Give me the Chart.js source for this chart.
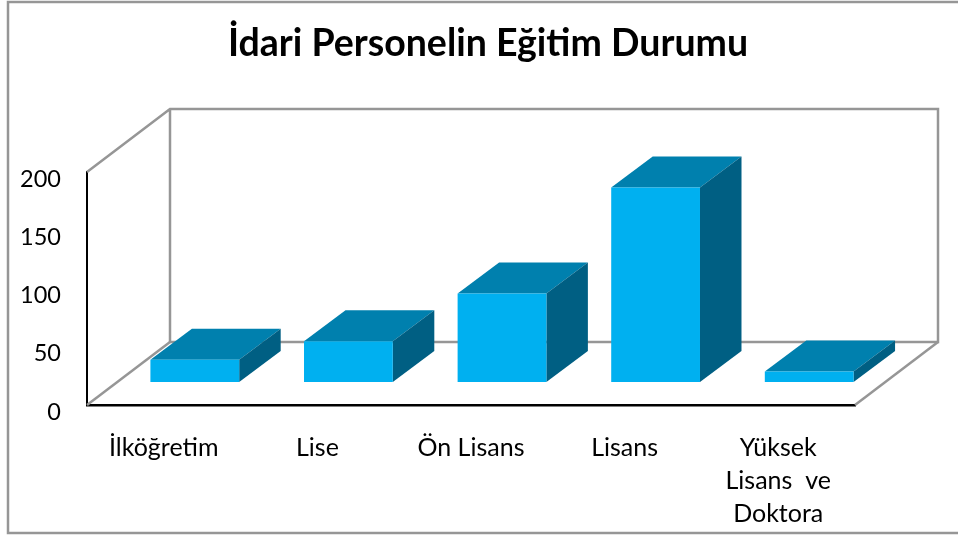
<!DOCTYPE html>
<html lang="tr">
<head>
<meta charset="utf-8">
<title>İdari Personelin Eğitim Durumu</title>
<script src="https://cdn.jsdelivr.net/npm/chart.js@4"></script>
<style>
    html, body { margin: 0; padding: 0; background: #fff; overflow: hidden; }
    canvas { display: block; }
</style>
</head>
<body>
<canvas id="chart" width="958" height="536"></canvas>
<script>
const chartTitle = "İdari Personelin Eğitim Durumu";
const categories = ["İlköğretim", "Lise", "Ön Lisans", "Lisans", ["Yüksek", "Lisans  ve", "Doktora"]];
const personel = [19, 35, 76, 167, 9];
const yTicks = [0, 50, 100, 150, 200];

const fontName = "Lato, 'Open Sans', sans-serif";
const wallColor = "#969696";
const frontColor = "#00B0F0";
const topColor = "#0080AE";
const sideColor = "#005F83";

// depth of the fake 3D box, and of the bars inside it
const wall = { dx: 83, dy: -63 };
const barShift = { dx: 31, dy: -23 };
const barDepth = { dx: 41.5, dy: -31 };

function line(ctx, points) {
    ctx.beginPath();
    points.forEach((p, i) => i ? ctx.lineTo(p[0], p[1]) : ctx.moveTo(p[0], p[1]));
    ctx.stroke();
}

function face(ctx, points, color) {
    ctx.fillStyle = color;
    ctx.beginPath();
    points.forEach((p, i) => i ? ctx.lineTo(p[0], p[1]) : ctx.moveTo(p[0], p[1]));
    ctx.closePath();
    ctx.fill();
}

const box3d = {
    id: "box3d",
    beforeDatasetsDraw(chart) {
        const { ctx, chartArea: a } = chart;
        ctx.save();
        // outer frame, the right side falls off the picture
        ctx.strokeStyle = wallColor;
        ctx.lineWidth = 2.5;
        line(ctx, [[958, 2], [8, 2], [8, 533], [958, 533]]);
        // back wall and floor
        const backL = a.left + wall.dx, backR = a.right + wall.dx;
        const backT = a.top + wall.dy, backB = a.bottom + wall.dy;
        line(ctx, [[a.left, a.top], [backL, backT], [backR, backT], [backR, backB], [backL, backB], [backL, backT]]);
        line(ctx, [[a.left, a.bottom], [backL, backB]]);
        line(ctx, [[a.right, a.bottom], [backR, backB]]);
        ctx.restore();
        // title
        ctx.save();
        ctx.font = "bold 37.5px " + fontName;
        ctx.fillStyle = "#000";
        ctx.textAlign = "center";
        ctx.textBaseline = "middle";
        ctx.fillText(chartTitle, 488, 44);
        ctx.restore();
    },
    beforeDatasetDraw(chart, args) {
        const ctx = chart.ctx;
        ctx.save();
        ctx.translate(barShift.dx, barShift.dy);
        args.meta.data.forEach(bar => {
            const { x, y, base, width } = bar.getProps(["x", "y", "base", "width"], true);
            const l = x - width / 2, r = x + width / 2;
            face(ctx, [[l, y], [r, y], [r + barDepth.dx, y + barDepth.dy], [l + barDepth.dx, y + barDepth.dy]], topColor);
            face(ctx, [[r, y], [r + barDepth.dx, y + barDepth.dy], [r + barDepth.dx, base + barDepth.dy], [r, base]], sideColor);
        });
    },
    afterDatasetDraw(chart) {
        chart.ctx.restore();
    }
};

new Chart(document.getElementById("chart"), {
    type: "bar",
    data: {
        labels: categories,
        datasets: [{
            label: chartTitle,
            data: personel,
            backgroundColor: frontColor,
            categoryPercentage: 1,
            barPercentage: 0.578,
            clip: false
        }]
    },
    options: {
        responsive: false,
        animation: false,
        layout: { padding: { top: 172, right: 103 } },
        plugins: {
            legend: { display: false },
            tooltip: { enabled: false }
        },
        scales: {
            x: {
                afterFit: s => { s.height = 131; },
                grid: { display: false },
                border: { color: "#000", width: 2.5 },
                ticks: {
                    color: "#000",
                    padding: 18,
                    maxRotation: 0,
                    autoSkip: false,
                    font: { family: fontName, size: 25, lineHeight: 1.32 }
                }
            },
            y: {
                min: 0,
                max: 200,
                afterFit: s => { s.width = 87; },
                afterBuildTicks: s => { s.ticks = yTicks.map(v => ({ value: v })); },
                grid: { display: false },
                border: { color: "#000", width: 2 },
                ticks: {
                    color: "#000",
                    padding: 18,
                    labelOffset: 7,
                    font: { family: fontName, size: 23.5 }
                }
            }
        }
    },
    plugins: [box3d]
});
</script>
</body>
</html>
